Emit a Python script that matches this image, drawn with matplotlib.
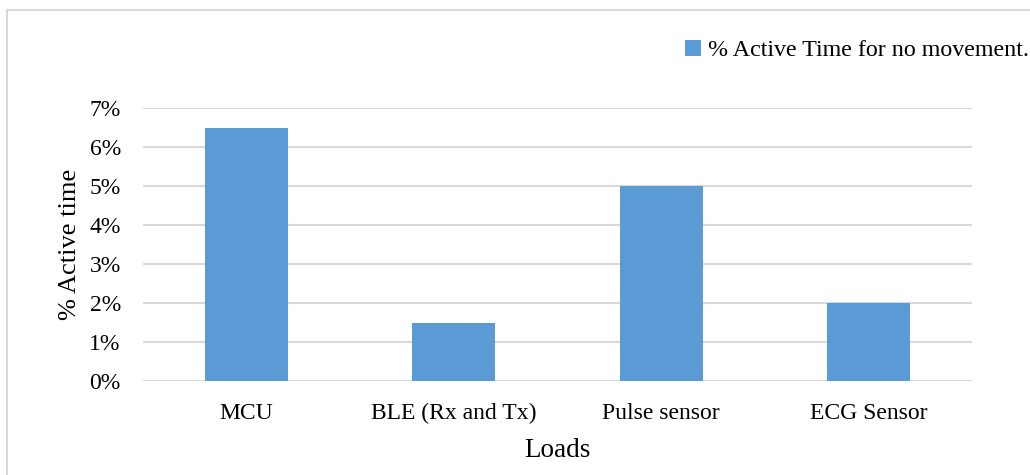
import matplotlib
matplotlib.use("Agg")
import matplotlib.pyplot as plt
from matplotlib.patches import Rectangle
from matplotlib.ticker import FuncFormatter

categories = ["MCU", "BLE (Rx and Tx)", "Pulse sensor", "ECG Sensor"]
active_time = [6.5, 1.5, 5.0, 2.0]
series_name = "% Active Time for no movement."

plt.rcParams["font.family"] = ["Liberation Serif", "DejaVu Serif"]

W, H = 1030, 475
fig = plt.figure(figsize=(W / 100, H / 100), dpi=100)
fig.patch.set_facecolor("white")

# outer frame of the chart area
fig.patches.append(Rectangle((7 / W, -0.1), 1.2, 1 - 10 / H + 0.1,
                             transform=fig.transFigure, fill=False,
                             edgecolor="#d9d9d9", linewidth=1.5, zorder=0))

ax = fig.add_axes([143 / W, 1 - 381 / H, (972 - 143) / W, (381 - 108) / H])
x = range(len(categories))
ax.bar(x, active_time, width=0.4, color="#5b9bd5", label=series_name, zorder=3)

ax.set_xlim(-0.5, len(categories) - 0.5)
ax.set_ylim(0, 7)
ax.set_yticks(range(0, 8))
ax.yaxis.set_major_formatter(FuncFormatter(lambda v, p: f"{int(v)}%"))
ax.set_xticks(list(x))
ax.set_xticklabels(categories)
ax.grid(axis="y", color="#d9d9d9", linewidth=1.5, zorder=0)
for s in ax.spines.values():
    s.set_visible(False)
ax.tick_params(axis="both", length=0, labelsize=17, colors="black")
ax.tick_params(axis="y", pad=16)
ax.tick_params(axis="x", pad=16)

ax.set_ylabel("% Active time", fontsize=19, labelpad=6)
ax.set_xlabel("Loads", fontsize=19.5, labelpad=10)

fig.legend(loc="upper left", bbox_to_anchor=(685 / W, 1 - 40 / H),
           frameon=False, fontsize=17.3, handlelength=0.65, handleheight=0.65,
           handletextpad=0.3, borderaxespad=0, borderpad=0)

fig.savefig("out.png", dpi=100, facecolor="white")
